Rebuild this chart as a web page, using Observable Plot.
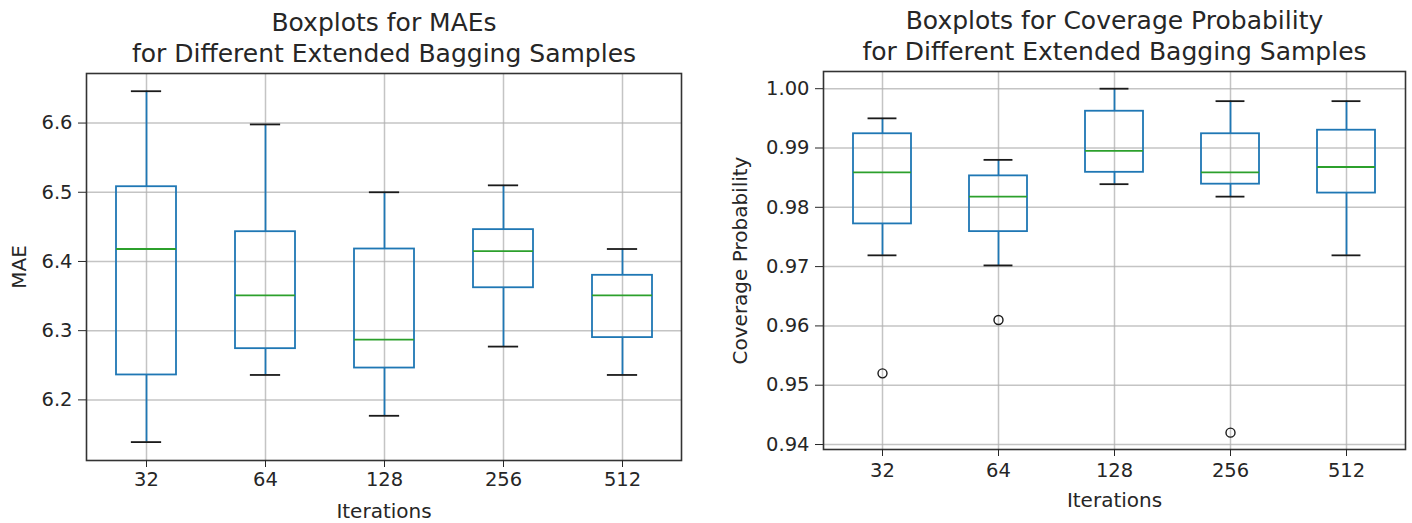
<!DOCTYPE html>
<html>
<head>
<meta charset="utf-8">
<script src="https://cdn.jsdelivr.net/npm/d3@7"></script>
<script src="https://cdn.jsdelivr.net/npm/@observablehq/plot@0.6"></script>
<style>
  html, body { margin: 0; padding: 0; background: #fff; }
  #wrap { position: relative; width: 1412px; height: 523px; overflow: hidden; }
  #left, #right { position: absolute; top: 0; width: 706px; height: 523px; }
  #left { left: 0; }
  #right { left: 706px; }
</style>
</head>
<body>
<div id="wrap"><div id="left"></div><div id="right"></div></div>
<script>
// ---- data ----
const iterations = ["32", "64", "128", "256", "512"];

const maeLow    = [6.139, 6.236, 6.177, 6.277, 6.236];
const maeQ1     = [6.236, 6.274, 6.246, 6.362, 6.290];
const maeMedian = [6.418, 6.351, 6.287, 6.415, 6.351];
const maeQ3     = [6.508, 6.443, 6.418, 6.446, 6.380];
const maeHigh   = [6.646, 6.598, 6.500, 6.510, 6.418];
const maeTicks  = [6.2, 6.3, 6.4, 6.5, 6.6];

const covLow    = [0.9719, 0.9702, 0.9839, 0.9818, 0.9719];
const covQ1     = [0.9772, 0.9759, 0.9859, 0.9839, 0.9824];
const covMedian = [0.9859, 0.9818, 0.9895, 0.9859, 0.9868];
const covQ3     = [0.9924, 0.9853, 0.9962, 0.9924, 0.9930];
const covHigh   = [0.9950, 0.9880, 1.0000, 0.9979, 0.9979];
const covOutlierIter  = ["32", "64", "256"];
const covOutlierValue = [0.952, 0.961, 0.942];
const covTicks  = [0.94, 0.95, 0.96, 0.97, 0.98, 0.99, 1.00];

// ---- styling ----
const FONT = "DejaVu Sans";
const BLUE = "#1f77b4", GREEN = "#2ca02c", INK = "#262626";

function rows(low, q1, med, q3, high) {
  return iterations.map((it, i) => ({it, low: low[i], q1: q1[i], med: med[i], q3: q3[i], high: high[i]}));
}

function boxPanel({data, outliers, ticks, fmt, yDomain, title, ylabel, width, height,
                   margins, yLabelDx, xLabelDy, xTickPadding}) {
  const [mt, mr, mb, ml] = margins;
  const bw = (width - ml - mr) / iterations.length * 0.5;
  const capInset = bw / 4;
  return Plot.plot({
    width, height,
    marginTop: mt, marginRight: mr, marginBottom: mb, marginLeft: ml,
    style: {fontFamily: FONT, fontSize: "19.5px", color: INK, background: "white", overflow: "visible"},
    x: {type: "band", domain: iterations, paddingInner: 0.5, paddingOuter: 0.25},
    y: {domain: yDomain},
    marks: [
      Plot.gridY(ticks, {stroke: "#b0b0b0", strokeOpacity: 0.75, strokeWidth: 1.5}),
      Plot.gridX({stroke: "#b0b0b0", strokeOpacity: 0.75, strokeWidth: 1.5}),
      Plot.ruleX(data, {x: "it", y1: "q3", y2: "high", stroke: BLUE, strokeWidth: 1.8}),
      Plot.ruleX(data, {x: "it", y1: "low", y2: "q1", stroke: BLUE, strokeWidth: 1.8}),
      Plot.barY(data, {x: "it", y1: "q1", y2: "q3", fill: "none", stroke: BLUE, strokeWidth: 1.8}),
      Plot.tickY(data, {x: "it", y: "med", stroke: GREEN, strokeWidth: 1.8}),
      Plot.tickY(data, {x: "it", y: "high", stroke: "#1a1a1a", strokeWidth: 1.8, insetLeft: capInset, insetRight: capInset}),
      Plot.tickY(data, {x: "it", y: "low", stroke: "#1a1a1a", strokeWidth: 1.8, insetLeft: capInset, insetRight: capInset}),
      outliers ? Plot.dot(outliers, {x: "it", y: "v", r: 4.5, stroke: "#1a1a1a", strokeWidth: 1.4, fill: "none"}) : null,
      Plot.frame({stroke: "#333", strokeWidth: 1.6}),
      Plot.axisY(ticks, {tickFormat: d3.format(fmt), tickSize: 8, tickPadding: 6, label: null, fontSize: 19.5}),
      Plot.axisX({tickSize: 7, tickPadding: xTickPadding, label: null, fontSize: 19.5}),
      Plot.text([ylabel], {frameAnchor: "left", rotate: -90, dx: yLabelDx, lineAnchor: "middle",
                           textAnchor: "middle", fontSize: 20, fill: INK}),
      Plot.text(["Iterations"], {frameAnchor: "bottom", dy: xLabelDy, lineAnchor: "middle",
                                 fontSize: 20, fill: INK}),
      Plot.text([title], {frameAnchor: "top", dy: -12, lineAnchor: "bottom", lineHeight: 1.22,
                          fontSize: 25, fill: INK})
    ]
  });
}

const left = boxPanel({
  data: rows(maeLow, maeQ1, maeMedian, maeQ3, maeHigh),
  outliers: null,
  ticks: maeTicks, fmt: ".1f",
  yDomain: [6.1124, 6.6716],
  title: "Boxplots for MAEs\nfor Different Extended Bagging Samples",
  ylabel: "MAE",
  width: 706, height: 523,
  margins: [73, 25, 63, 86],
  yLabelDx: -67, xLabelDy: 51, xTickPadding: 5
});
document.getElementById("left").appendChild(left);

const right = boxPanel({
  data: rows(covLow, covQ1, covMedian, covQ3, covHigh),
  outliers: covOutlierIter.map((it, i) => ({it, v: covOutlierValue[i]})),
  ticks: covTicks, fmt: ".2f",
  yDomain: [0.93916, 1.0029],
  title: "Boxplots for Coverage Probability\nfor Different Extended Bagging Samples",
  ylabel: "Coverage Probability",
  width: 706, height: 523,
  margins: [71, 7, 74, 117],
  yLabelDx: -83, xLabelDy: 51, xTickPadding: 7
});
document.getElementById("right").appendChild(right);
</script>
</body>
</html>
